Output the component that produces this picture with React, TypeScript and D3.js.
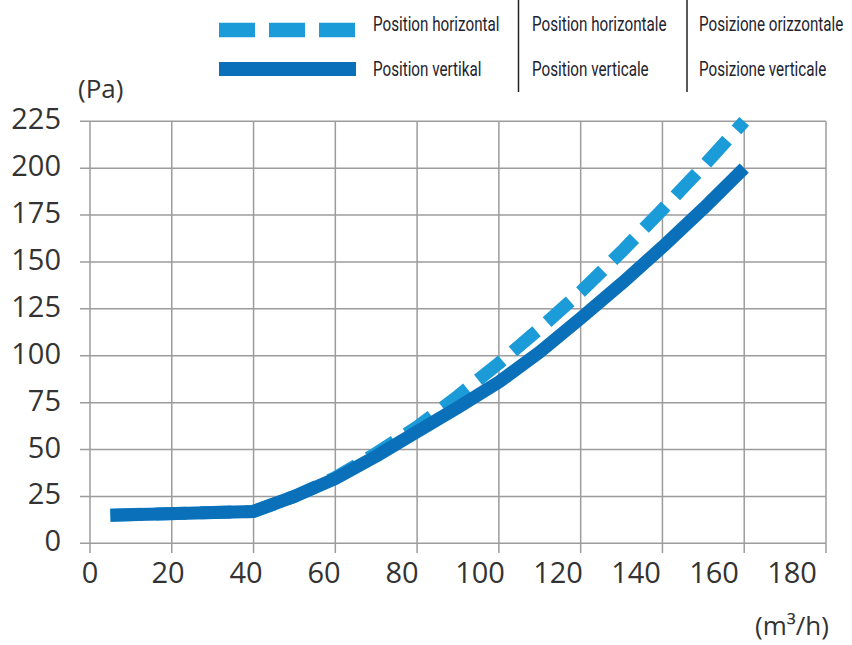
import React from 'react';
import * as d3 from 'd3';

// airflow (m³/h) against pressure drop (Pa)
const flowTicks = [0, 20, 40, 60, 80, 100, 120, 140, 160, 180];
const pressureTicks = [0, 25, 50, 75, 100, 125, 150, 175, 200, 225];

const verticalFlow = [5, 40, 50, 60, 70, 80, 90, 100, 110, 120, 130, 140, 150, 160];
const verticalPa = [15, 17, 25, 34.5, 46.5, 59.5, 72.5, 86, 102, 120, 138.5, 158, 178.5, 200];

const horizontalFlow = [5, 40, 50, 60, 70, 80, 90, 100, 110, 120, 130, 140, 150, 160];
const horizontalPa = [15, 17, 25, 35, 48, 62, 78.5, 96, 114.5, 134, 155.5, 178, 201, 225];

const legendRows = [
  ['Position horizontal', 'Position horizontale', 'Posizione orizzontale'],
  ['Position vertikal', 'Position verticale', 'Posizione verticale'],
];

const W = 852;
const H = 645;

const DASHED = '#1b9bd8';
const SOLID = '#0b70ba';
const GRID = '#9c9c9c';
const TEXT = '#333';

const App: React.FC = () => {
  const x = d3.scaleLinear().domain([0, 180]).range([90, 826]);
  const y = d3.scaleLinear().domain([0, 225]).range([543.3, 121.3]);
  // the printed tick labels sit a little tighter than the grid
  const xLabel = d3.scaleLinear().domain([0, 180]).range([90, 792]);

  const line = d3
    .line<[number, number]>()
    .x(d => x(d[0]))
    .y(d => y(d[1]))
    .curve(d3.curveLinear);

  const horizontalPts = horizontalFlow.map((f, i) => [f, horizontalPa[i]] as [number, number]);
  const verticalPts = verticalFlow.map((f, i) => [f, verticalPa[i]] as [number, number]);

  // legend columns, text squeezed horizontally to look condensed
  const colX = [373, 532, 699];
  const rowY = [31, 76];
  const sepX = [518.5, 687];
  const squeeze = 0.78;

  const axisFont = "'Open Sans', 'DejaVu Sans', sans-serif";
  const legendFont = "'Roboto', 'Liberation Sans', sans-serif";

  return (
    <svg
      width={W}
      height={H}
      style={{ position: 'absolute', left: 0, top: 0, background: '#fff' }}
    >
      {/* grid */}
      <g stroke={GRID} strokeWidth={1.5}>
        {pressureTicks.map(t => (
          <line key={'h' + t} x1={80} x2={x(180)} y1={y(t)} y2={y(t)} />
        ))}
        {flowTicks.map(t => (
          <line key={'v' + t} x1={x(t)} x2={x(t)} y1={y(225)} y2={553} />
        ))}
      </g>

      {/* y tick labels */}
      <g fontFamily={axisFont} fontSize={29} fill={TEXT} textAnchor="end">
        {pressureTicks.map(t => (
          <text key={t} x={61} y={y(t) + 8}>
            {t}
          </text>
        ))}
      </g>

      {/* x tick labels */}
      <g fontFamily={axisFont} fontSize={29} fill={TEXT} textAnchor="middle">
        {flowTicks.map(t => (
          <text key={t} x={xLabel(t)} y={583}>
            {t}
          </text>
        ))}
      </g>

      <text x={78} y={98} fontFamily={axisFont} fontSize={26} fill={TEXT}>
        (Pa)
      </text>
      <text x={829} y={635} fontFamily={axisFont} fontSize={26} fill={TEXT} textAnchor="end">
        (m³/h)
      </text>

      {/* curves */}
      <path
        d={line(horizontalPts) || ''}
        fill="none"
        stroke={DASHED}
        strokeWidth={13}
        strokeDasharray="31 14"
        strokeLinejoin="round"
      />
      <path
        d={line(verticalPts) || ''}
        fill="none"
        stroke={SOLID}
        strokeWidth={13}
        strokeLinejoin="round"
      />

      {/* legend */}
      <line x1={219} x2={356} y1={30} y2={30} stroke={DASHED} strokeWidth={14.5} strokeDasharray="36 14" />
      <line x1={219} x2={356} y1={69} y2={69} stroke={SOLID} strokeWidth={14} />
      {sepX.map(sx => (
        <line key={sx} x1={sx} x2={sx} y1={0} y2={92} stroke="#222" strokeWidth={1.5} />
      ))}
      <g fontFamily={legendFont} fontSize={19.5} fill="#23232e">
        {legendRows.map((row, r) =>
          row.map((label, c) => (
            <text
              key={label}
              transform={`translate(${colX[c]},${rowY[r]}) scale(${squeeze},1)`}
            >
              {label}
            </text>
          ))
        )}
      </g>
    </svg>
  );
};

export default App;
